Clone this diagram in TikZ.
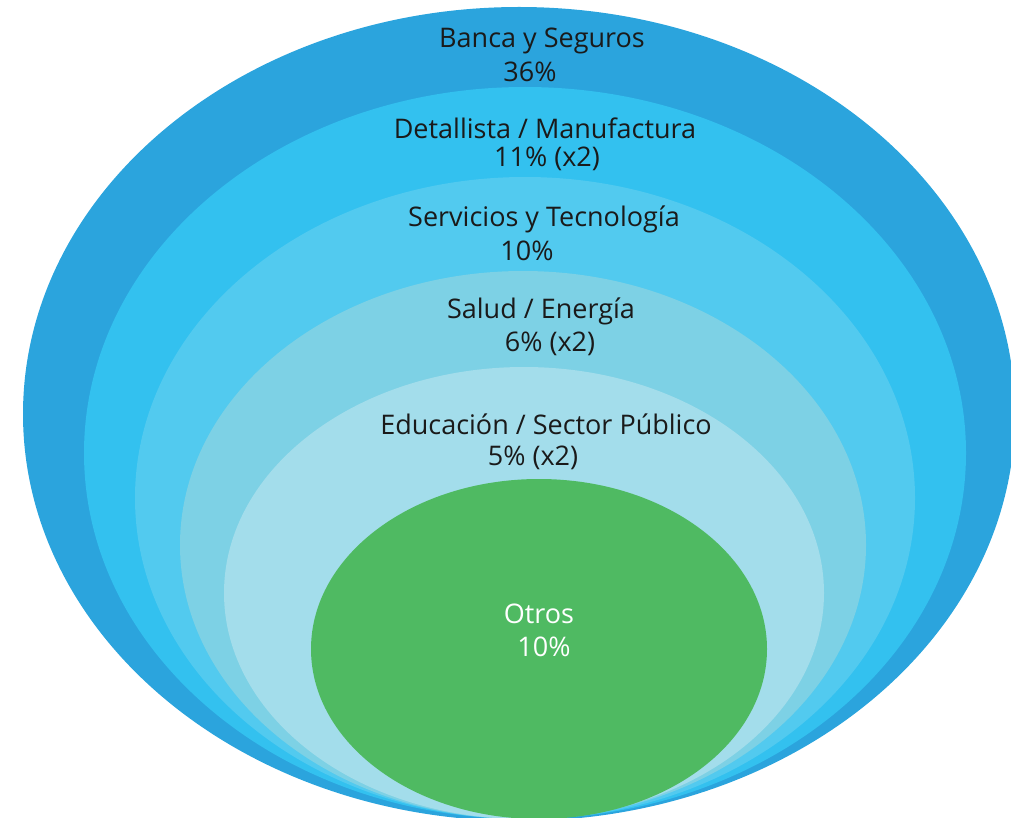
\documentclass[tikz,border=0pt]{standalone}
\usepackage{fontspec}
\setmainfont{Open Sans}
\definecolor{c1}{HTML}{2BA4DD}
\definecolor{c2}{HTML}{33C1EF}
\definecolor{c3}{HTML}{52CAEF}
\definecolor{c4}{HTML}{7DD1E5}
\definecolor{c5}{HTML}{A3DDEB}
\definecolor{cg}{HTML}{4FBA62}
\definecolor{txt}{HTML}{1A1A1A}
\tikzset{
  lbl/.style={font=\fontsize{27}{32}\selectfont, text=txt, inner sep=0pt, anchor=center},
  wlbl/.style={lbl, text=white}
}
\begin{document}
\begin{tikzpicture}[x=1pt,y=-1pt]
\useasboundingbox (0,0) rectangle (1011,818);
\fill[c1] (519,414) ellipse [x radius=496pt, y radius=407pt];
\fill[c2] (525,453) ellipse [x radius=441pt, y radius=366pt];
\fill[c3] (525,498) ellipse [x radius=390pt, y radius=321pt];
\fill[c4] (523,545) ellipse [x radius=343pt, y radius=274pt];
\fill[c5] (524,593) ellipse [x radius=300pt, y radius=226pt];
\fill[cg] (539,649) ellipse [x radius=228pt, y radius=170pt];
\node[lbl] (b1) at (542,41) {Banca y Seguros};
\node[lbl] (b2) at (530,72) {36\%};
\node[lbl] (d1) at (545,128) {Detallista / Manufactura};
\node[lbl] (d2) at (547,159) {11\% (x2)};
\node[lbl] (s1) at (544,219) {Servicios y Tecnología};
\node[lbl] (s2) at (527,251) {10\%};
\node[lbl] (h1) at (541,311) {Salud / Energía};
\node[lbl] (h2) at (550,344) {6\% (x2)};
\node[lbl] (e1) at (546,424) {Educación / Sector Público};
\node[lbl] (e2) at (533,458) {5\% (x2)};
\node[wlbl] (o1) at (539,614) {Otros};
\node[wlbl] (o2) at (544,647) {10\%};
\end{tikzpicture}
\end{document}
